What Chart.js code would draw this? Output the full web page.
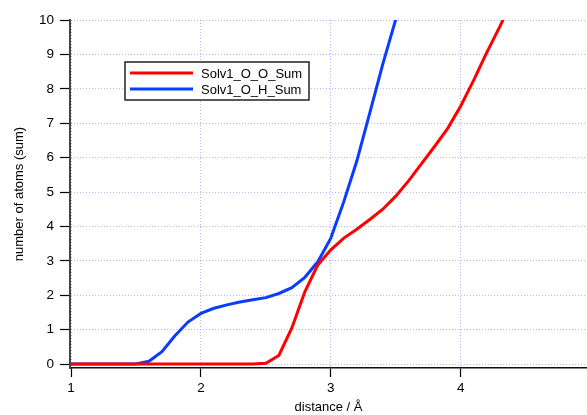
<!DOCTYPE html>
<html>
<head>
<meta charset="utf-8">
<script src="https://cdn.jsdelivr.net/npm/chart.js@4"></script>
<style>
  html, body { margin: 0; padding: 0; background: #fff; }
  #wrap { width: 587px; height: 415px; }
</style>
</head>
<body>
<div id="wrap"><canvas id="myCanvas"></canvas></div>
<script>
// distances (Å) and cumulative sums
var distOO = [1.0, 1.1, 1.2, 1.3, 1.4, 1.5, 1.6, 1.7, 1.8, 1.9, 2.0, 2.1, 2.2, 2.3, 2.4, 2.5,
  2.6, 2.7, 2.8, 2.9, 3.0, 3.1, 3.2, 3.3, 3.4, 3.5, 3.6, 3.7, 3.8, 3.9, 4.0, 4.1, 4.2, 4.3, 4.4];
var sumOO = [0, 0, 0, 0, 0, 0, 0, 0, 0, 0, 0, 0, 0, 0, 0, 0.02,
  0.25, 1.05, 2.1, 2.88, 3.32, 3.66, 3.92, 4.2, 4.5, 4.88, 5.33, 5.83, 6.33, 6.85, 7.5, 8.25, 9.05, 9.8, 10.6];

var distOH = [1.0, 1.1, 1.2, 1.3, 1.4, 1.5, 1.6, 1.7, 1.8, 1.9, 2.0, 2.1, 2.2, 2.3, 2.4, 2.5,
  2.6, 2.7, 2.8, 2.9, 3.0, 3.1, 3.2, 3.3, 3.4, 3.5];
var sumOH = [0, 0, 0, 0, 0, 0, 0.08, 0.36, 0.82, 1.22, 1.47, 1.62, 1.72, 1.8, 1.87, 1.93,
  2.05, 2.22, 2.52, 2.97, 3.66, 4.72, 5.9, 7.3, 8.72, 10.02];

var xTicks = [1, 2, 3, 4];
var yTicks = [0, 1, 2, 3, 4, 5, 6, 7, 8, 9, 10];

function toPoints(xs, ys) {
  var pts = [];
  for (var i = 0; i < xs.length; i++) {
    pts.push({ x: xs[i], y: ys[i] });
  }
  return pts;
}

var FONT = "Liberation Sans";
var gridColor = "rgba(110,110,255,0.5)";

// legend box drawn inside the plot, like the original
var boxLegend = {
  id: "boxLegend",
  afterDraw: function (chart) {
    var ctx = chart.ctx;
    var x = 125, y = 62, w = 184, h = 38;
    ctx.save();
    ctx.fillStyle = "#fff";
    ctx.fillRect(x, y, w, h);
    ctx.strokeStyle = "#222";
    ctx.lineWidth = 1.5;
    ctx.strokeRect(x, y, w, h);
    ctx.font = "13px " + FONT;
    ctx.textBaseline = "middle";
    chart.data.datasets.forEach(function (ds, i) {
      var ly = y + 11 + i * 16;
      ctx.strokeStyle = ds.borderColor;
      ctx.lineWidth = 3;
      ctx.beginPath();
      ctx.moveTo(x + 5, ly);
      ctx.lineTo(x + 68, ly);
      ctx.stroke();
      ctx.fillStyle = "#000";
      ctx.fillText(ds.label, x + 76, ly + 1);
    });
    ctx.restore();
  }
};

var myChart = new Chart(document.getElementById("myCanvas"), {
  type: "line",
  data: {
    datasets: [
      {
        label: "Solv1_O_O_Sum",
        data: toPoints(distOO, sumOO),
        borderColor: "#ff0000",
        borderWidth: 3,
        pointRadius: 0,
        tension: 0
      },
      {
        label: "Solv1_O_H_Sum",
        data: toPoints(distOH, sumOH),
        borderColor: "#0a3cff",
        borderWidth: 3,
        pointRadius: 0,
        tension: 0
      }
    ]
  },
  options: {
    responsive: true,
    maintainAspectRatio: false,
    animation: false,
    layout: { padding: { top: 20, right: 0, bottom: 0, left: 0 } },
    plugins: {
      legend: { display: false },
      tooltip: { enabled: false }
    },
    scales: {
      x: {
        type: "linear",
        min: 0.9923,
        max: 4.972,
        afterBuildTicks: function (scale) {
          scale.ticks = xTicks.map(function (v) { return { value: v }; });
        },
        afterFit: function (scale) { scale.height = 47; },
        ticks: {
          color: "#000",
          font: { family: FONT, size: 13.5 },
          padding: 3,
          maxRotation: 0
        },
        grid: {
          color: gridColor,
          tickColor: "#000",
          tickBorderDash: [100, 0],
          tickLength: 9,
          tickWidth: 1.2
        },
        border: { display: true, color: "#111", width: 1.5, dash: [1, 2] },
        title: {
          display: true,
          text: "distance / Å",
          color: "#000",
          font: { family: FONT, size: 13 },
          padding: { top: 2, bottom: 0 }
        }
      },
      y: {
        type: "linear",
        min: -0.116,
        max: 10,
        afterBuildTicks: function (scale) {
          scale.ticks = yTicks.map(function (v) { return { value: v }; });
        },
        afterFit: function (scale) { scale.width = 70; },
        ticks: {
          color: "#000",
          font: { family: FONT, size: 13.5 },
          padding: 6
        },
        grid: {
          color: gridColor,
          tickColor: "#000",
          tickBorderDash: [100, 0],
          tickLength: 10,
          tickWidth: 1.2
        },
        border: { display: true, color: "#444", width: 2, dash: [1, 2] },
        title: {
          display: true,
          text: "number of atoms (sum)",
          color: "#000",
          font: { family: FONT, size: 13 },
          padding: { top: 12, bottom: 0 }
        }
      }
    }
  },
  plugins: [boxLegend]
});
</script>
</body>
</html>
